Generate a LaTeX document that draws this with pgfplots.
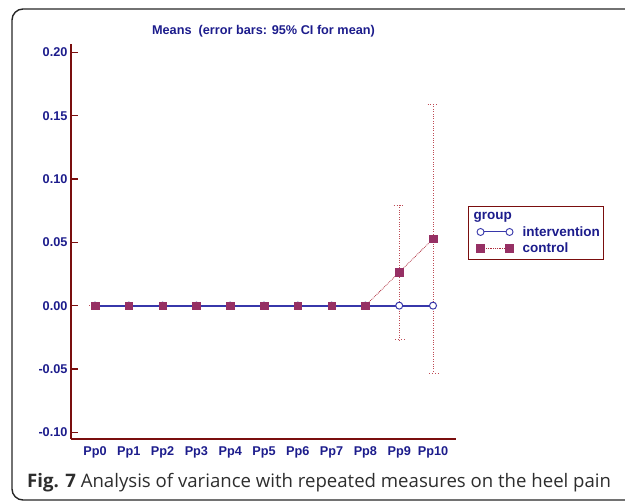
\documentclass[border=0pt]{standalone}
\usepackage{pgfplots}
\pgfplotsset{compat=1.18}
\usepackage{fontspec}
\setmainfont{Liberation Sans}
\newfontfamily\capfont{Open Sans}
\definecolor{frameR}{RGB}{122,14,14}
\definecolor{navyT}{RGB}{28,28,140}
\definecolor{intB}{RGB}{55,55,170}
\definecolor{ctrlM}{RGB}{150,48,100}
\definecolor{ctrlL}{RGB}{175,45,60}
\definecolor{errL}{RGB}{190,75,85}
\definecolor{capG}{RGB}{45,45,45}
\begin{document}
\begin{tikzpicture}
\useasboundingbox (0pt,0pt) rectangle (625pt,503pt);
\begin{scope}
\clip (0pt,0pt) rectangle (625pt,503pt);
\draw[line width=1.4pt, color=black!85, rounded corners=11pt] (12pt,3pt) rectangle (650pt,494pt);
\end{scope}
\begin{axis}[
  at={(71pt,64pt)}, anchor=south west,
  scale only axis, width=385pt, height=395pt,
  xmin=-0.71, xmax=10.68,
  ymin=-0.1053, ymax=0.2066,
  axis line style={frameR, line width=2pt},
  axis x line*=bottom, axis y line*=left,
  xtick={0,...,10},
  xticklabels={Pp0,Pp1,Pp2,Pp3,Pp4,Pp5,Pp6,Pp7,Pp8,Pp9,Pp10},
  ytick={-0.10,-0.05,0,0.05,0.10,0.15,0.20},
  yticklabel style={/pgf/number format/.cd, fixed, fixed zerofill, precision=2},
  /pgf/number format/assume math mode=true,
  tick label style={font=\fontsize{12.7}{15}\selectfont\bfseries, text=navyT},
  x tick style={draw=none},
  y tick style={frameR, line width=1.3pt},
  major tick length=7pt,
  tick align=inside,
  xticklabel style={yshift=-4pt},
  title={Means\ \ (error bars: 95\% CI for mean)},
  title style={font=\fontsize{12.7}{15}\selectfont\bfseries, text=navyT, yshift=-3pt},
  legend style={at={(1.031,0.59)}, anchor=north west, draw=frameR, line width=1.2pt,
    font=\fontsize{13.5}{16}\selectfont\bfseries, text=navyT, inner xsep=2pt, inner ysep=4pt,
    row sep=1pt, cells={anchor=west}},
  legend cell align=left,
  legend image code/.code={\draw[#1] plot coordinates {(0pt,0pt) (29pt,0pt)};
    \path[draw=none] (-10pt,-5pt) rectangle (40pt,5pt);},
  error bars/error bar style={color=errL, draw=errL},
  clip=false,
]
\addlegendimage{empty legend}
\addlegendentry{\makebox[0pt][l]{\hspace*{-49pt}group}}
\addlegendimage{draw=intB, line width=1pt, mark=*, mark size=3.5pt, mark options={draw=intB, fill=white, solid, line width=0.9pt}}
\addlegendentry{intervention}
\addlegendimage{draw=ctrlL, densely dotted, line width=0.8pt, mark=square*, mark size=3.75pt, mark options={draw=ctrlM, fill=ctrlM, solid}}
\addlegendentry{control}
% control: line and error bars
\addplot[color=ctrlL, draw=ctrlL, densely dotted, line width=0.8pt, no marks,
  error bars/.cd, y dir=both, y explicit,
  error bar style={color=errL, draw=errL, dotted, line width=0.9pt},
  error mark options={rotate=90, mark size=5.5pt, color=errL, draw=errL, dotted, line width=0.9pt}]
  coordinates {
  (0,0) +- (0,0)
  (1,0) +- (0,0)
  (2,0) +- (0,0)
  (3,0) +- (0,0)
  (4,0) +- (0,0)
  (5,0) +- (0,0)
  (6,0) +- (0,0)
  (7,0) +- (0,0)
  (8,0) +- (0,0)
  (9,0.0263) +- (0,0.0532)
  (10,0.0527) +- (0,0.1060)
  };
% intervention
\addplot[draw=intB, line width=2pt, mark=*, mark size=3.5pt, mark options={draw=intB, fill=white, solid, line width=1pt}]
  coordinates {(0,0) (1,0) (2,0) (3,0) (4,0) (5,0) (6,0) (7,0) (8,0) (9,0) (10,0)};
% control marks on top
\addplot[only marks, mark=square*, mark size=3.75pt, mark options={draw=ctrlM, fill=ctrlM}]
  coordinates {(0,0) (1,0) (2,0) (3,0) (4,0) (5,0) (6,0) (7,0) (8,0) (9,0.0263) (10,0.0527)};
\end{axis}
\node[anchor=base west, inner sep=0pt, text=capG, font=\capfont\fontsize{18.6}{21}\selectfont] at (27pt,15pt)
  {\textbf{Fig. 7} Analysis of variance with repeated measures on the heel pain};
\end{tikzpicture}
\end{document}
